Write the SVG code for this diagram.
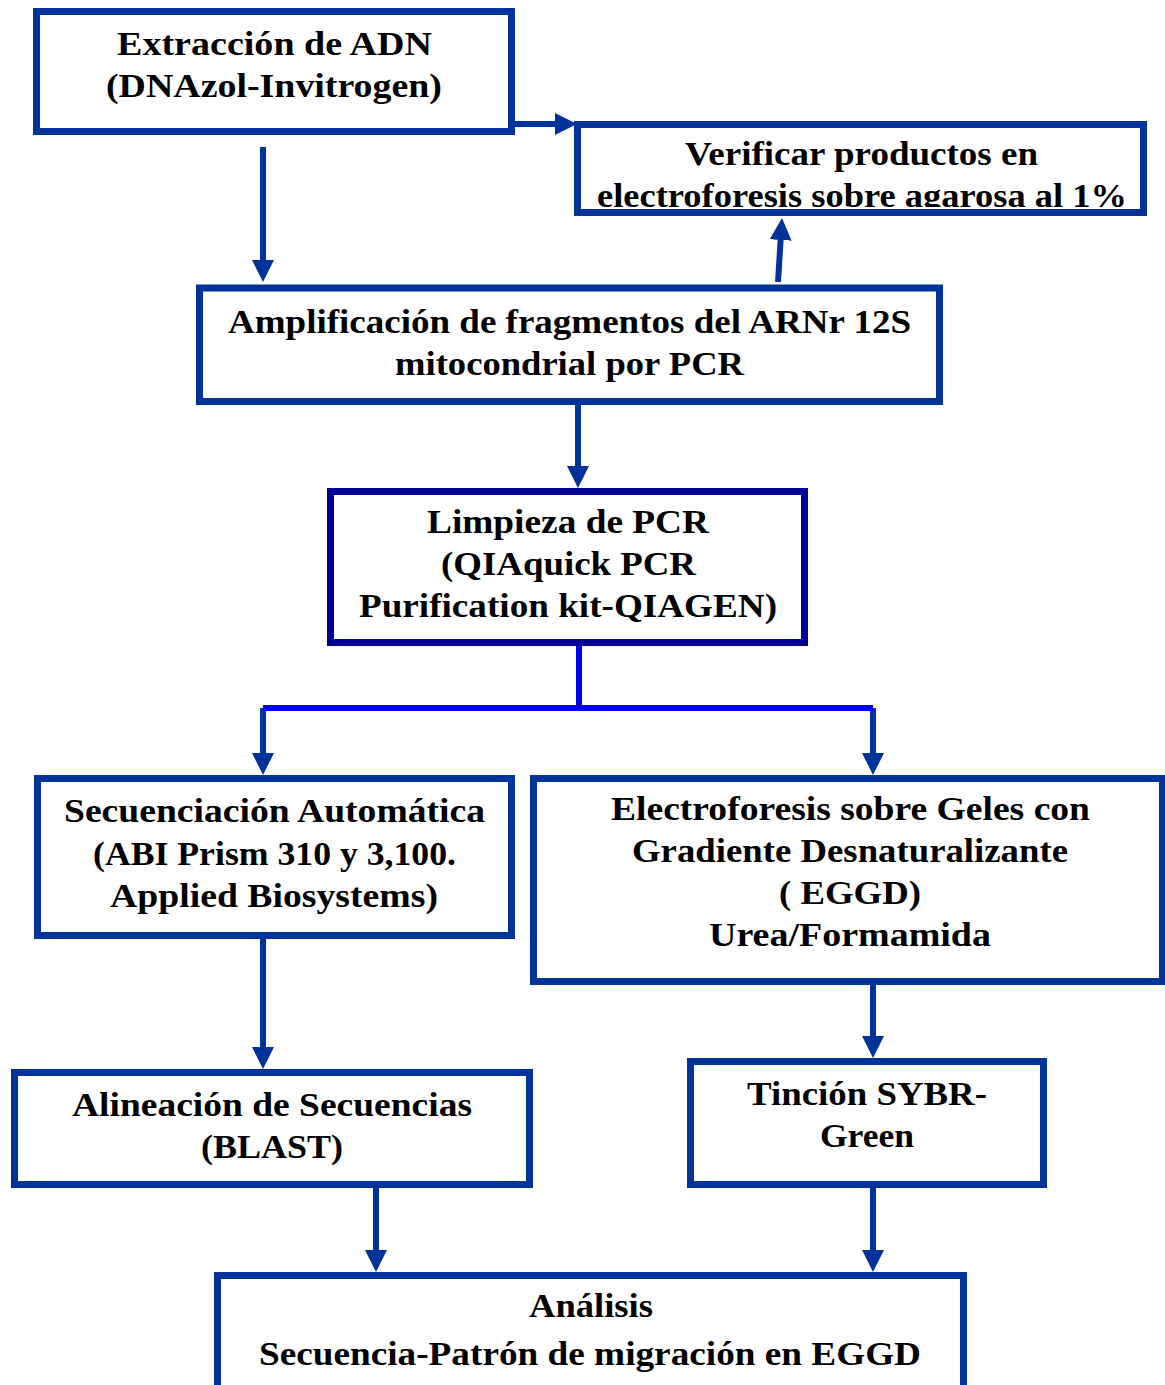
<svg xmlns="http://www.w3.org/2000/svg" width="1165" height="1385" viewBox="0 0 1165 1385">
<style>
.box{fill:#fff;stroke:#003399;stroke-width:7}
.dark{stroke:#000099}
.t{font-family:"Liberation Serif","Times New Roman",serif;font-weight:bold;font-size:34px;fill:#000;text-anchor:middle}
.c{fill:none;stroke:#003399;stroke-width:6}
.b{fill:none;stroke:#0000ff;stroke-width:6}
</style>
<defs>
<marker id="ah" viewBox="0 0 22 22" refX="12" refY="11" markerWidth="22" markerHeight="22" markerUnits="userSpaceOnUse" orient="auto">
<path d="M0,0 L22,11 L0,22 Z" fill="#003399"/>
</marker>
<clipPath id="vclip"><rect x="580" y="128" width="562" height="79"/></clipPath>
</defs>
<rect width="1165" height="1385" fill="#fff"/>
<g id="connectors">
<line class="c" x1="263" y1="147" x2="263" y2="272" marker-end="url(#ah)"/>
<line class="c" x1="515" y1="124" x2="567" y2="124" marker-end="url(#ah)"/>
<line class="c" x1="778" y1="282" x2="781.4" y2="228" marker-end="url(#ah)"/>
<line class="c" x1="578" y1="405" x2="578" y2="478" marker-end="url(#ah)"/>
<line class="b" x1="579" y1="646" x2="579" y2="708"/>
<line class="c" x1="263" y1="708" x2="263" y2="765" marker-end="url(#ah)"/>
<line class="c" x1="873" y1="708" x2="873" y2="765" marker-end="url(#ah)"/>
<line class="b" x1="263" y1="708" x2="873" y2="708"/>
<line class="c" x1="263" y1="939" x2="263" y2="1059" marker-end="url(#ah)"/>
<line class="c" x1="873" y1="985" x2="873" y2="1048" marker-end="url(#ah)"/>
<line class="c" x1="376" y1="1188" x2="376" y2="1262" marker-end="url(#ah)"/>
<line class="c" x1="873" y1="1188" x2="873" y2="1262" marker-end="url(#ah)"/>
</g>
<g id="extraccion">
<rect class="box" x="36.5" y="11.5" width="475" height="120"/>
<text class="t" x="274.5" y="55" textLength="315" lengthAdjust="spacingAndGlyphs">Extracción de ADN</text>
<text class="t" x="274" y="97" textLength="336" lengthAdjust="spacingAndGlyphs">(DNAzol-Invitrogen)</text>
</g>
<g id="verificar">
<rect class="box" x="577.5" y="124.5" width="566" height="88"/>
<text class="t" x="861.5" y="165" textLength="353" lengthAdjust="spacingAndGlyphs">Verificar productos en</text>
<text class="t" x="862" y="207" textLength="530" lengthAdjust="spacingAndGlyphs" clip-path="url(#vclip)">electroforesis sobre agarosa al 1%</text>
</g>
<g id="amplificacion">
<rect class="box" x="199.5" y="288" width="740" height="113.5"/>
<text class="t" x="569.5" y="333" textLength="683" lengthAdjust="spacingAndGlyphs">Amplificación de fragmentos del ARNr 12S</text>
<text class="t" x="569.5" y="375" textLength="349" lengthAdjust="spacingAndGlyphs">mitocondrial por PCR</text>
</g>
<g id="limpieza">
<rect class="box dark" x="330.5" y="491.5" width="474" height="151"/>
<text class="t" x="568" y="533" textLength="282" lengthAdjust="spacingAndGlyphs">Limpieza de PCR</text>
<text class="t" x="568.5" y="575" textLength="255" lengthAdjust="spacingAndGlyphs">(QIAquick PCR</text>
<text class="t" x="568" y="617" textLength="418" lengthAdjust="spacingAndGlyphs">Purification kit-QIAGEN)</text>
</g>
<g id="secuenciacion">
<rect class="box" x="37.5" y="778.5" width="474" height="157"/>
<text class="t" x="274.5" y="822" textLength="421" lengthAdjust="spacingAndGlyphs">Secuenciación Automática</text>
<text class="t" x="274.5" y="865" textLength="363" lengthAdjust="spacingAndGlyphs">(ABI Prism 310 y 3,100.</text>
<text class="t" x="274" y="907" textLength="328" lengthAdjust="spacingAndGlyphs">Applied Biosystems)</text>
</g>
<g id="electroforesis">
<rect class="box" x="533.5" y="778.5" width="629" height="203"/>
<text class="t" x="850.5" y="820" textLength="479" lengthAdjust="spacingAndGlyphs">Electroforesis sobre Geles con</text>
<text class="t" x="850" y="862" textLength="436" lengthAdjust="spacingAndGlyphs">Gradiente Desnaturalizante</text>
<text class="t" x="850" y="904" textLength="142" lengthAdjust="spacingAndGlyphs">( EGGD)</text>
<text class="t" x="850" y="946" textLength="282" lengthAdjust="spacingAndGlyphs">Urea/Formamida</text>
</g>
<g id="alineacion">
<rect class="box" x="14.5" y="1072.5" width="515" height="112"/>
<text class="t" x="272" y="1116" textLength="400" lengthAdjust="spacingAndGlyphs">Alineación de Secuencias</text>
<text class="t" x="272" y="1158" textLength="142" lengthAdjust="spacingAndGlyphs">(BLAST)</text>
</g>
<g id="tincion">
<rect class="box" x="690.5" y="1061.5" width="353" height="123"/>
<text class="t" x="867" y="1105" textLength="240" lengthAdjust="spacingAndGlyphs">Tinción SYBR-</text>
<text class="t" x="867" y="1147" textLength="94" lengthAdjust="spacingAndGlyphs">Green</text>
</g>
<g id="analisis">
<rect class="box" x="217.5" y="1275.5" width="746" height="200"/>
<text class="t" x="591" y="1317" textLength="124" lengthAdjust="spacingAndGlyphs">Análisis</text>
<text class="t" x="590" y="1365" textLength="662" lengthAdjust="spacingAndGlyphs">Secuencia-Patrón de migración en EGGD</text>
</g>
</svg>
